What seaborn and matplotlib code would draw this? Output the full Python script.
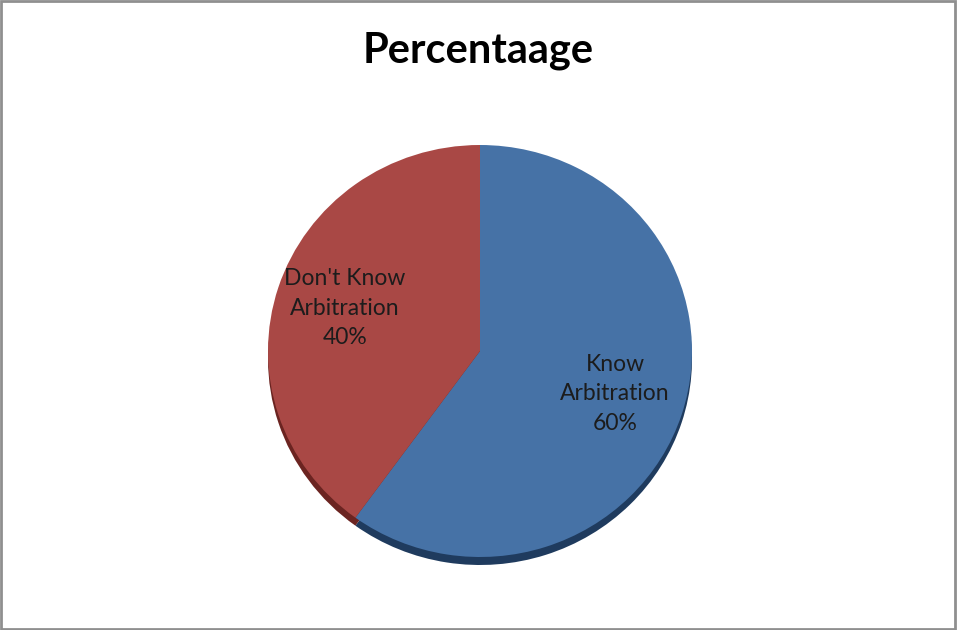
import matplotlib
matplotlib.use("Agg")
import matplotlib.pyplot as plt
from matplotlib.patches import Rectangle
import seaborn as sns

# Survey shares
categories = ["Know Arbitration", "Don't Know Arbitration"]
values = [60, 40]
label_lines = ["Know\nArbitration", "Don't Know\nArbitration"]
title = "Percentaage"

sns.set_theme(style="white")
plt.rcParams["font.family"] = ["Lato", "DejaVu Sans"]

face_colors = ["#4672A6", "#A94845"]
side_colors = ["#1F3B5E", "#6B2421"]

W, H = 957, 630
fig = plt.figure(figsize=(W / 100, H / 100), dpi=100)
fig.patch.set_facecolor("white")

# pie face: centre (480, 351) px, radii 212 x 206 px
cx, cy, rx, ry = 480, 351, 212, 206
shift = 8 / ry
pad = shift + 0.01
ax = fig.add_axes([(cx - rx) / W, (H - (cy + ry)) / H - pad * ry / H,
                   2 * rx / W, 2 * ry / H + pad * ry / H])

labels = [f"{t}\n{v}%" for t, v in zip(label_lines, values)]

# darker rim underneath, shifted down to give the tilted-disc edge
ax.pie(values, colors=side_colors, startangle=90, counterclock=False,
       center=(0, -shift), radius=1.0, frame=True,
       wedgeprops=dict(linewidth=0))

wedges, texts = ax.pie(values, labels=labels, colors=face_colors, startangle=90,
                       counterclock=False, radius=1.0, frame=True,
                       labeldistance=0.67,
                       wedgeprops=dict(linewidth=0),
                       textprops=dict(ha="center", va="center", fontsize=16.5,
                                      color="#1c1c1c", linespacing=1.5))
ax.set_xlim(-1, 1)
ax.set_ylim(-1 - pad, 1)
ax.set_aspect("auto")
ax.axis("off")

fig.text(478 / W, 1 - 51 / H, title, ha="center", va="center",
         fontsize=30, fontweight="bold", color="black")

fig.patches.append(Rectangle((0.001, 0.002), 0.997, 0.996, transform=fig.transFigure,
                             fill=False, edgecolor="#8f8f8f", linewidth=2))

fig.savefig("out.png", dpi=100, facecolor="white")
